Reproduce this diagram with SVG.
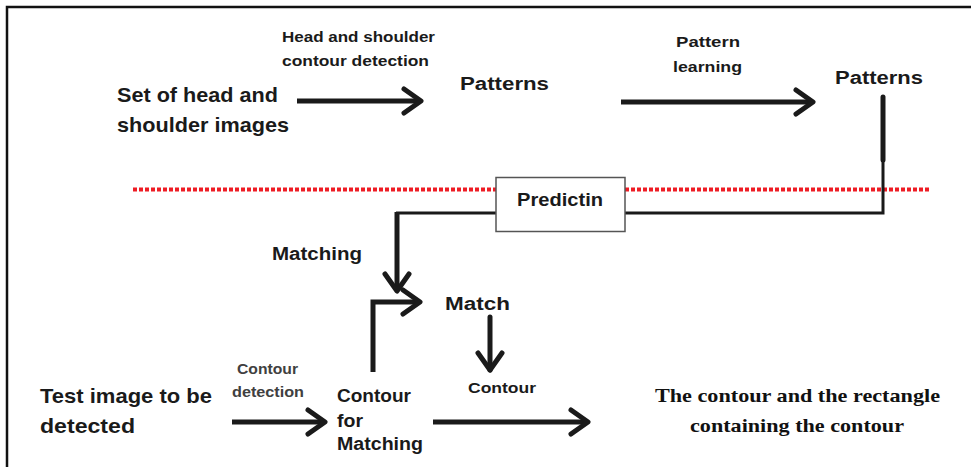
<svg xmlns="http://www.w3.org/2000/svg" width="971" height="467" viewBox="0 0 971 467">
<style>
text{font-family:"Liberation Sans",Arial,sans-serif;font-weight:bold;fill:#1a1a1a}
.big{font-size:21px}
.mid{font-size:18px}
.sm{font-size:14px}
.gray{fill:#404040}
.serif{font-family:"Liberation Serif","Times New Roman",serif;font-size:19.5px;fill:#111}
.ln{fill:none;stroke:#1a1a1a;stroke-width:5}
.thin{fill:none;stroke:#1a1a1a;stroke-width:3}
</style>
<defs>
<marker id="chev" viewBox="-22 -16 26 32" refX="0" refY="0" markerWidth="26" markerHeight="32" markerUnits="userSpaceOnUse" orient="auto">
<path d="M-17,-12 L0,0 L-17,12" fill="none" stroke="#1a1a1a" stroke-width="5" stroke-linecap="round" stroke-linejoin="round"/>
</marker>
</defs>
<rect width="971" height="467" fill="#fff"/>
<g id="frame">
<path d="M7,467 V7 H971" fill="none" stroke="#111" stroke-width="2.5"/>
</g>
<g id="separator">
<line x1="133" y1="189.5" x2="929" y2="189.5" stroke="#ee1c24" stroke-width="4" stroke-dasharray="4 2"/>
</g>
<g id="connectors">
<path class="ln" d="M297,101 H421" marker-end="url(#chev)"/>
<path class="ln" d="M621,102 H813" marker-end="url(#chev)"/>
<path class="ln" d="M883,97 V160" stroke-linecap="round"/>
<path class="thin" d="M883,159 V213 H625"/>
<path class="thin" d="M497,213 H396"/>
<path class="ln" d="M397,212 V291" marker-end="url(#chev)"/>
<path class="ln" d="M373,372 V302 H420" marker-end="url(#chev)"/>
<path class="ln" d="M490,317 V370" stroke-linecap="round" marker-end="url(#chev)"/>
<path class="ln" d="M232,422 H325" marker-end="url(#chev)"/>
<path class="ln" d="M433,422 H588" marker-end="url(#chev)"/>
</g>
<g id="label-hs-detection">
<text class="sm" x="282" y="42" textLength="153" lengthAdjust="spacingAndGlyphs">Head and shoulder</text>
<text class="sm" x="282" y="66" textLength="147" lengthAdjust="spacingAndGlyphs">contour detection</text>
</g>
<g id="node-set">
<text class="big" x="117" y="102" textLength="161" lengthAdjust="spacingAndGlyphs">Set of head and</text>
<text class="big" x="117" y="132" textLength="172" lengthAdjust="spacingAndGlyphs">shoulder images</text>
</g>
<g id="node-patterns1">
<text class="mid" x="460" y="90" textLength="89" lengthAdjust="spacingAndGlyphs">Patterns</text>
</g>
<g id="label-pattern-learning">
<text class="sm" x="676" y="47" textLength="64" lengthAdjust="spacingAndGlyphs">Pattern</text>
<text class="sm" x="673" y="72" textLength="69" lengthAdjust="spacingAndGlyphs">learning</text>
</g>
<g id="node-patterns2">
<text class="mid" x="835" y="84" textLength="88" lengthAdjust="spacingAndGlyphs">Patterns</text>
</g>
<g id="node-predictin">
<rect x="496" y="177.5" width="129" height="54" fill="#fff" stroke="#555" stroke-width="1.5"/>
<text class="mid" x="517" y="206" textLength="86" lengthAdjust="spacingAndGlyphs">Predictin</text>
</g>
<g id="label-matching">
<text class="mid" x="272" y="260" textLength="90" lengthAdjust="spacingAndGlyphs">Matching</text>
</g>
<g id="node-match">
<text class="mid" x="445" y="310" font-size="19" textLength="65" lengthAdjust="spacingAndGlyphs">Match</text>
</g>
<g id="node-contour-small">
<text class="sm" x="468" y="393" textLength="68" lengthAdjust="spacingAndGlyphs">Contour</text>
</g>
<g id="label-contour-detection">
<text class="sm gray" x="237" y="374" textLength="61" lengthAdjust="spacingAndGlyphs">Contour</text>
<text class="sm gray" x="232" y="397" textLength="72" lengthAdjust="spacingAndGlyphs">detection</text>
</g>
<g id="node-test-image">
<text class="big" x="40" y="403" textLength="172" lengthAdjust="spacingAndGlyphs">Test image to be</text>
<text class="big" x="40" y="433" textLength="95" lengthAdjust="spacingAndGlyphs">detected</text>
</g>
<g id="node-contour-matching">
<text class="mid" x="337" y="402" font-size="17" textLength="74" lengthAdjust="spacingAndGlyphs">Contour</text>
<text class="mid" x="337" y="427" font-size="17" textLength="26" lengthAdjust="spacingAndGlyphs">for</text>
<text class="mid" x="337" y="450" font-size="17" textLength="86" lengthAdjust="spacingAndGlyphs">Matching</text>
</g>
<g id="node-result">
<text class="serif" x="655" y="402" textLength="285" lengthAdjust="spacingAndGlyphs">The contour and the rectangle</text>
<text class="serif" x="690" y="432" textLength="214" lengthAdjust="spacingAndGlyphs">containing the contour</text>
</g>
</svg>
